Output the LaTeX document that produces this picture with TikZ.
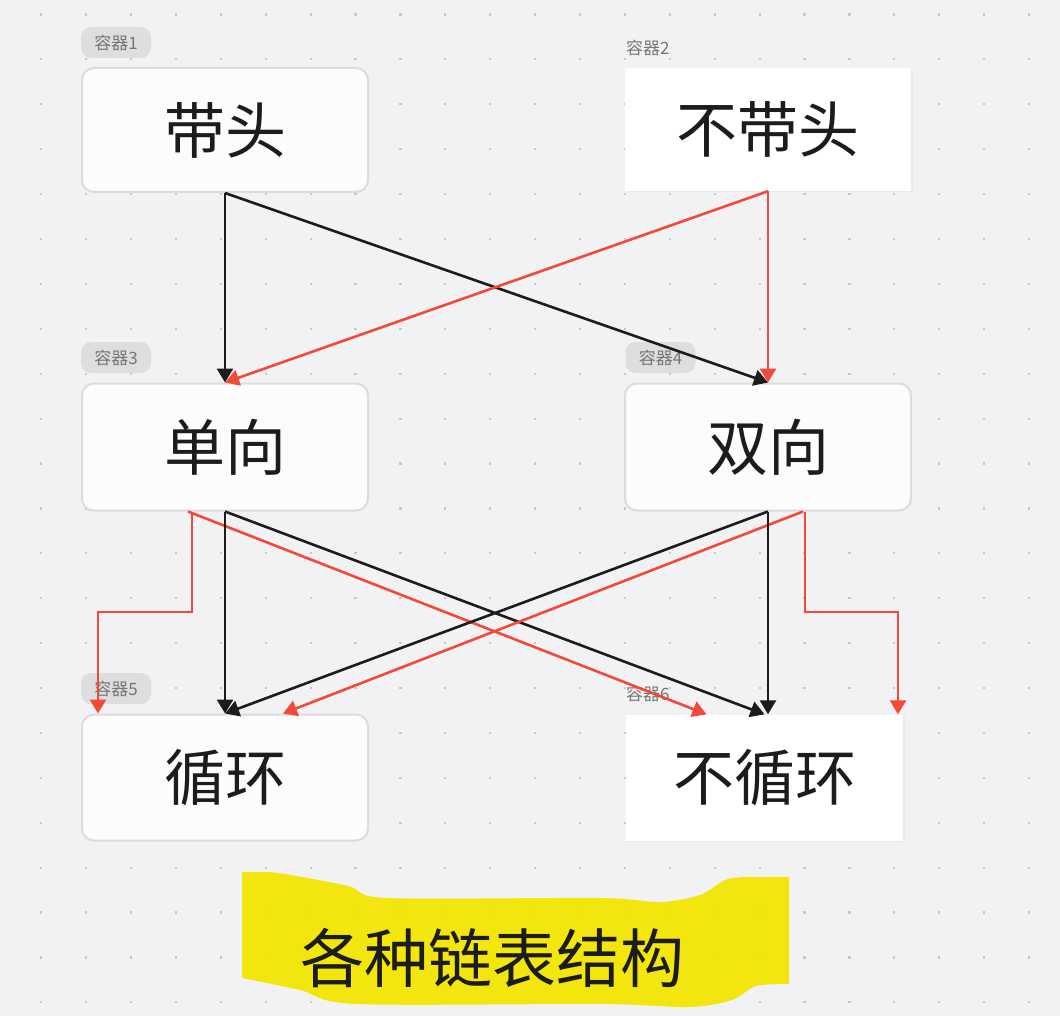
\documentclass[tikz,border=0pt]{standalone}
\usepackage{fontspec}
\setmainfont{Noto Sans CJK SC}
\usetikzlibrary{arrows.meta,shadows}
\definecolor{bgc}{HTML}{F2F2F4}
\definecolor{dotc}{HTML}{C8C8CC}
\definecolor{boxfill}{HTML}{FCFCFC}
\definecolor{boxline}{HTML}{DCDCDC}
\definecolor{pillc}{HTML}{DEDEE0}
\definecolor{labc}{HTML}{767676}
\definecolor{ink}{HTML}{1C1C1C}
\definecolor{redc}{HTML}{F24A3A}
\definecolor{hlc}{HTML}{F2E600}
\begin{document}
\begin{tikzpicture}[x=1pt,y=-1pt,
  rbox/.style={draw=boxline, line width=2pt, fill=boxfill, rounded corners=12pt,
    minimum width=286pt, minimum height=124pt, inner sep=0pt, text=ink,
    font=\fontsize{61}{61}\selectfont},
  pbox/.style={fill=white, draw=none, drop shadow={opacity=0.08, shadow xshift=1.5pt, shadow yshift=-1.5pt},
    minimum width=286pt, minimum height=123pt, inner sep=0pt, text=ink,
    font=\fontsize{61}{61}\selectfont},
  pill/.style={fill=pillc, rounded corners=10pt, minimum width=70pt, minimum height=31pt,
    inner sep=0pt, text=labc, font=\fontsize{17}{17}\selectfont},
  plainlab/.style={inner sep=0pt, anchor=west, text=labc, font=\fontsize{17}{17}\selectfont},
  blk/.style={draw=ink, line width=2.6pt, -{Triangle[length=14pt,width=16pt]}},
  rda/.style={draw=redc, line width=2.6pt, -{Triangle[length=14pt,width=16pt]}},
]
\useasboundingbox (0,0) rectangle (1060,1016);
\fill[bgc] (0,0) rectangle (1060,1016);
% dot grid
\foreach \i in {0,...,22}{
  \foreach \j in {0,...,22}{
    \fill[dotc] ({41.1+\i*44.9-1},{14.4+\j*44.9-1}) rectangle +(2.2,2.2);
  }
}
% highlight
\fill[hlc, opacity=0.94] plot[smooth, tension=0.5] coordinates {(242,872) (278,873) (348,886) (387,898) (600,898) (660,902) (700,895) (728,879) (760,877) (789,877)}
  -- plot[smooth, tension=0.5] coordinates {(789,984) (756,986) (732,1000) (690,1007) (600,1004) (356,1004) (300,990) (242,978)} -- cycle;
\node[inner sep=0pt, text=ink, font=\fontsize{64}{64}\selectfont] (title) at (492,958) {各种链表结构};

% boxes
\node[rbox] (b1) at (225,130) {带头};
\node[pbox] (b2) at (768,129.5) {不带头};
\node[rbox, minimum height=127pt] (b3) at (225,447) {单向};
\node[rbox, minimum height=127pt] (b4) at (768,447) {双向};
\node[rbox, minimum height=126pt] (b5) at (225,777.5) {循环};
\node[pbox, minimum width=277pt, minimum height=126pt] (b6) at (764.5,777.5) {不循环};

% labels
\node[pill] (l1) at (116,42.5) {容器1};
\node[plainlab] (l2) at (626,48) {容器2};
\node[pill] (l3) at (116,357.5) {容器3};
\node[pill] (l4) at (660.5,357.5) {容器4};
\node[pill] (l5) at (116,688.5) {容器5};
\node[plainlab] (l6) at (626,694) {容器6};

% connectors row 1
\draw[blk] (b1.south) -- (b3.north);
\draw[blk] (b1.south) -- (b4.north);
\draw[rda] (b2.south) -- (b3.north);
\draw[rda] (b2.south) -- (b4.north);

% connectors row 2
\coordinate (c1) at (98,612);
\coordinate (c2) at (898,612);
\draw[rda] ([xshift=-33pt]b3.south) |- (c1) -- (c1 |- b5.north);
\draw[rda] ([xshift=-37pt]b3.south) -- ([xshift=-58pt]b6.north);
\draw[blk] (b3.south) -- (b5.north);
\draw[blk] (b3.south) -- (b6.north);
\draw[rda] ([xshift=37pt]b4.south) |- (c2) -- (c2 |- b6.north);
\draw[rda] ([xshift=35pt]b4.south) -- ([xshift=58pt]b5.north);
\draw[blk] (b4.south) -- (b4.south |- b6.north);
\draw[blk] (b4.south) -- (b5.north);
\end{tikzpicture}
\end{document}
